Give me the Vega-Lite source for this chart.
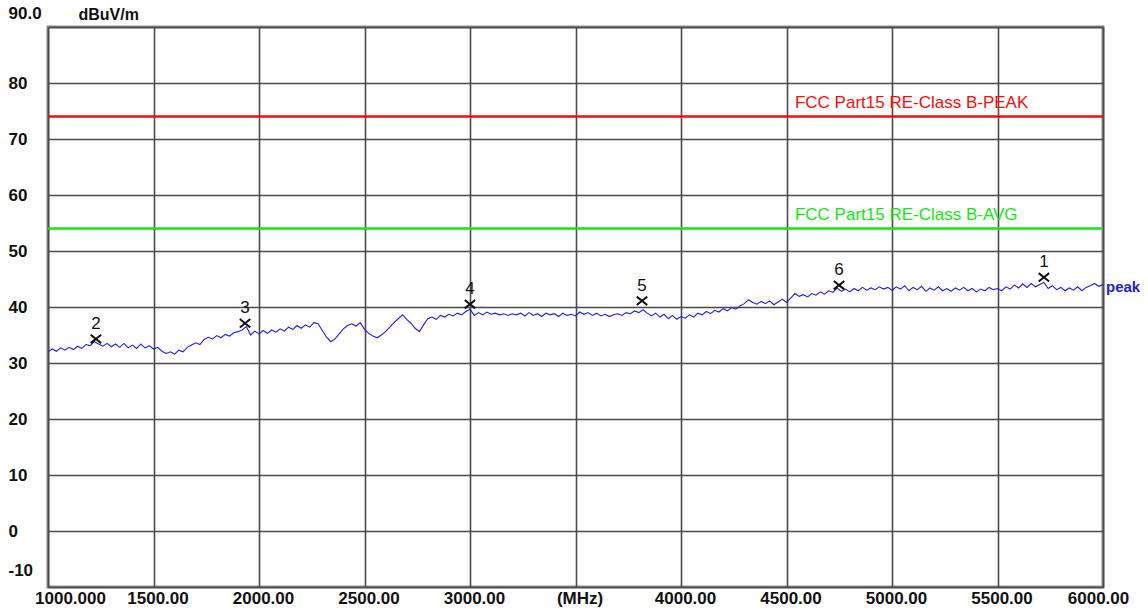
{
  "$schema": "https://vega.github.io/schema/vega-lite/v6.json",
  "width": 1055,
  "height": 560,
  "autosize": {"type": "none"},
  "padding": {"left": 48, "top": 27, "right": 45, "bottom": 24},
  "background": "white",
  "config": {
    "view": {"stroke": "#8a8a8a", "strokeWidth": 3},
    "axis": {
      "grid": true, "gridColor": "#4a4a4a", "gridWidth": 1.6, "gridOpacity": 1,
      "domain": false, "ticks": false, "tickSize": 0, "labelOverlap": false, "labelBound": false, "labelFlush": false,
      "labelFont": "Liberation Sans", "labelFontSize": 17, "labelFontWeight": "bold", "labelColor": "#111111",
      "titleFont": "Liberation Sans", "titleFontSize": 16, "titleFontWeight": "bold", "titleColor": "#111111"
    }
  },
  "datasets": {
    "trace": [
      {"freq":1000,"level":32.0},{"freq":1020,"level":32.5},{"freq":1040,"level":32.1},{"freq":1060,"level":32.7},{"freq":1080,"level":32.3},
      {"freq":1100,"level":32.8},{"freq":1120,"level":32.4},{"freq":1140,"level":33.0},{"freq":1160,"level":32.6},{"freq":1180,"level":33.3},
      {"freq":1200,"level":33.1},{"freq":1220,"level":33.8},{"freq":1240,"level":33.4},{"freq":1260,"level":33.0},{"freq":1280,"level":33.5},
      {"freq":1300,"level":32.9},{"freq":1320,"level":33.4},{"freq":1340,"level":32.8},{"freq":1360,"level":33.5},{"freq":1380,"level":32.7},
      {"freq":1400,"level":33.2},{"freq":1420,"level":32.6},{"freq":1440,"level":33.4},{"freq":1460,"level":32.7},{"freq":1480,"level":33.1},
      {"freq":1500,"level":32.5},{"freq":1520,"level":32.8},{"freq":1540,"level":32.1},{"freq":1560,"level":31.7},{"freq":1580,"level":32.0},
      {"freq":1600,"level":31.6},{"freq":1620,"level":32.3},{"freq":1640,"level":32.0},{"freq":1660,"level":32.8},{"freq":1680,"level":33.2},
      {"freq":1700,"level":33.6},{"freq":1720,"level":33.3},{"freq":1740,"level":34.2},{"freq":1760,"level":34.6},{"freq":1780,"level":34.3},
      {"freq":1800,"level":34.9},{"freq":1820,"level":34.5},{"freq":1840,"level":35.1},{"freq":1860,"level":34.8},{"freq":1880,"level":35.4},
      {"freq":1900,"level":35.6},{"freq":1920,"level":35.9},{"freq":1940,"level":36.5},{"freq":1960,"level":35.0},{"freq":1980,"level":35.7},
      {"freq":2000,"level":35.2},{"freq":2020,"level":35.8},{"freq":2040,"level":35.3},{"freq":2060,"level":35.9},{"freq":2080,"level":35.5},
      {"freq":2100,"level":36.1},{"freq":2120,"level":35.7},{"freq":2140,"level":36.4},{"freq":2160,"level":36.0},{"freq":2180,"level":36.7},
      {"freq":2200,"level":36.2},{"freq":2220,"level":36.8},{"freq":2240,"level":36.4},{"freq":2260,"level":37.2},{"freq":2280,"level":37.0},
      {"freq":2300,"level":35.8},{"freq":2320,"level":34.6},{"freq":2340,"level":33.8},{"freq":2360,"level":34.3},{"freq":2380,"level":35.2},
      {"freq":2400,"level":36.1},{"freq":2420,"level":36.7},{"freq":2440,"level":37.0},{"freq":2460,"level":36.6},{"freq":2480,"level":37.2},
      {"freq":2500,"level":36.0},{"freq":2520,"level":35.3},{"freq":2540,"level":34.8},{"freq":2560,"level":34.5},{"freq":2580,"level":35.0},
      {"freq":2600,"level":35.6},{"freq":2620,"level":36.4},{"freq":2640,"level":37.2},{"freq":2660,"level":37.9},{"freq":2680,"level":38.6},
      {"freq":2700,"level":37.8},{"freq":2720,"level":37.1},{"freq":2740,"level":36.2},{"freq":2760,"level":35.6},{"freq":2780,"level":36.8},
      {"freq":2800,"level":37.9},{"freq":2820,"level":38.2},{"freq":2840,"level":37.8},{"freq":2860,"level":38.5},{"freq":2880,"level":38.2},
      {"freq":2900,"level":38.7},{"freq":2920,"level":38.4},{"freq":2940,"level":38.9},{"freq":2960,"level":38.6},{"freq":2980,"level":39.2},
      {"freq":3000,"level":39.6},{"freq":3020,"level":38.5},{"freq":3040,"level":39.0},{"freq":3060,"level":38.6},{"freq":3080,"level":39.1},
      {"freq":3100,"level":38.7},{"freq":3120,"level":38.9},{"freq":3140,"level":38.6},{"freq":3160,"level":38.8},{"freq":3180,"level":38.5},
      {"freq":3200,"level":38.8},{"freq":3220,"level":38.6},{"freq":3240,"level":38.9},{"freq":3260,"level":38.4},{"freq":3280,"level":39.0},
      {"freq":3300,"level":38.5},{"freq":3320,"level":38.8},{"freq":3340,"level":38.3},{"freq":3360,"level":38.9},{"freq":3380,"level":38.6},
      {"freq":3400,"level":38.8},{"freq":3420,"level":38.3},{"freq":3440,"level":38.9},{"freq":3460,"level":38.5},{"freq":3480,"level":38.7},
      {"freq":3500,"level":38.4},{"freq":3520,"level":39.1},{"freq":3540,"level":38.7},{"freq":3560,"level":39.0},{"freq":3580,"level":38.5},
      {"freq":3600,"level":38.9},{"freq":3620,"level":38.4},{"freq":3640,"level":38.7},{"freq":3660,"level":38.3},{"freq":3680,"level":38.6},
      {"freq":3700,"level":38.8},{"freq":3720,"level":38.5},{"freq":3740,"level":39.0},{"freq":3760,"level":38.8},{"freq":3780,"level":39.3},
      {"freq":3800,"level":39.0},{"freq":3820,"level":39.5},{"freq":3840,"level":38.9},{"freq":3860,"level":38.4},{"freq":3880,"level":38.9},
      {"freq":3900,"level":38.2},{"freq":3920,"level":38.7},{"freq":3940,"level":37.9},{"freq":3960,"level":38.5},{"freq":3980,"level":37.8},
      {"freq":4000,"level":38.3},{"freq":4020,"level":38.0},{"freq":4040,"level":38.6},{"freq":4060,"level":38.2},{"freq":4080,"level":38.9},
      {"freq":4100,"level":38.6},{"freq":4120,"level":39.2},{"freq":4140,"level":38.8},{"freq":4160,"level":39.4},{"freq":4180,"level":39.1},
      {"freq":4200,"level":39.7},{"freq":4220,"level":39.3},{"freq":4240,"level":39.9},{"freq":4260,"level":39.6},{"freq":4280,"level":40.2},
      {"freq":4300,"level":40.6},{"freq":4320,"level":41.3},{"freq":4340,"level":40.8},{"freq":4360,"level":40.5},{"freq":4380,"level":41.0},
      {"freq":4400,"level":40.6},{"freq":4420,"level":41.1},{"freq":4440,"level":40.4},{"freq":4460,"level":40.9},{"freq":4480,"level":41.4},
      {"freq":4500,"level":40.8},{"freq":4520,"level":41.6},{"freq":4540,"level":42.4},{"freq":4560,"level":41.9},{"freq":4580,"level":42.2},
      {"freq":4600,"level":41.8},{"freq":4620,"level":42.4},{"freq":4640,"level":42.1},{"freq":4660,"level":42.7},{"freq":4680,"level":42.3},
      {"freq":4700,"level":42.9},{"freq":4720,"level":42.6},{"freq":4740,"level":43.4},{"freq":4760,"level":42.8},{"freq":4780,"level":43.2},
      {"freq":4800,"level":42.7},{"freq":4820,"level":43.3},{"freq":4840,"level":42.9},{"freq":4860,"level":43.5},{"freq":4880,"level":43.0},
      {"freq":4900,"level":43.4},{"freq":4920,"level":43.1},{"freq":4940,"level":43.6},{"freq":4960,"level":43.2},{"freq":4980,"level":43.5},
      {"freq":5000,"level":43.0},{"freq":5020,"level":43.6},{"freq":5040,"level":43.2},{"freq":5060,"level":43.8},{"freq":5080,"level":42.9},
      {"freq":5100,"level":43.5},{"freq":5120,"level":43.1},{"freq":5140,"level":43.7},{"freq":5160,"level":42.8},{"freq":5180,"level":43.4},
      {"freq":5200,"level":43.0},{"freq":5220,"level":43.6},{"freq":5240,"level":42.9},{"freq":5260,"level":43.3},{"freq":5280,"level":42.8},
      {"freq":5300,"level":43.4},{"freq":5320,"level":43.0},{"freq":5340,"level":43.5},{"freq":5360,"level":42.9},{"freq":5380,"level":43.3},
      {"freq":5400,"level":42.7},{"freq":5420,"level":43.2},{"freq":5440,"level":42.9},{"freq":5460,"level":43.5},{"freq":5480,"level":43.1},
      {"freq":5500,"level":43.3},{"freq":5520,"level":42.9},{"freq":5540,"level":43.6},{"freq":5560,"level":43.2},{"freq":5580,"level":43.9},
      {"freq":5600,"level":43.4},{"freq":5620,"level":44.1},{"freq":5640,"level":43.5},{"freq":5660,"level":44.2},{"freq":5680,"level":43.6},
      {"freq":5700,"level":44.0},{"freq":5720,"level":44.4},{"freq":5740,"level":43.3},{"freq":5760,"level":43.8},{"freq":5780,"level":43.1},
      {"freq":5800,"level":43.5},{"freq":5820,"level":42.9},{"freq":5840,"level":43.4},{"freq":5860,"level":43.0},{"freq":5880,"level":43.6},
      {"freq":5900,"level":42.9},{"freq":5920,"level":43.5},{"freq":5940,"level":43.8},{"freq":5960,"level":44.2},{"freq":5980,"level":43.7},
      {"freq":6000,"level":44.0}
    ],
    "limits": [
      {"name": "FCC Part15 RE-Class B-PEAK", "level": 74},
      {"name": "FCC Part15 RE-Class B-AVG", "level": 54}
    ],
    "markers": [
      {"id": "1", "freq": 5720, "level": 45.3},
      {"id": "2", "freq": 1227, "level": 34.3},
      {"id": "3", "freq": 1934, "level": 37.1},
      {"id": "4", "freq": 3000, "level": 40.5},
      {"id": "5", "freq": 3815, "level": 41.1},
      {"id": "6", "freq": 4749, "level": 43.9}
    ]
  },
  "layer": [
    {
      "data": {"name": "trace"},
      "mark": {"type": "line", "color": "#1f1fe6", "strokeWidth": 1.1, "clip": true},
      "encoding": {
        "x": {
          "field": "freq", "type": "quantitative",
          "scale": {"domain": [1000, 6000], "nice": false, "zero": false},
          "axis": {
            "values": [1000, 1500, 2000, 2500, 3000, 3500, 4000, 4500, 5000, 5500, 6000],
            "labelExpr": "datum.value == 3500 ? '(MHz)' : datum.value == 1000 ? '1000.000' : format(datum.value, '.2f')",
            "labelPadding": 3, "labelBaseline": "top",
            "labelOffset": {"condition": [{"test": "datum.value == 1000", "value": 22}, {"test": "datum.value == 6000", "value": -5}], "value": 4},
            "title": null
          }
        },
        "y": {
          "field": "level", "type": "quantitative",
          "scale": {"domain": [-10, 90], "nice": false, "zero": false},
          "axis": {
            "values": [-10, 0, 10, 20, 30, 40, 50, 60, 70, 80, 90],
            "labelExpr": "datum.value == 90 ? '90.0' : datum.value",
            "labelAlign": "left", "labelPadding": 40, "labelBaseline": "middle",
            "labelOffset": {"condition": [{"test": "datum.value == 90", "value": -14}, {"test": "datum.value == -10", "value": -17}], "value": 0},
            "title": "dBuV/m", "titleAngle": 0, "titleAlign": "left", "titleBaseline": "middle",
            "titleX": 30, "titleY": -13
          }
        }
      }
    },
    {
      "data": {"name": "limits"},
      "mark": {"type": "rule", "strokeWidth": 2.5},
      "encoding": {
        "y": {"field": "level", "type": "quantitative"},
        "color": {"field": "name", "type": "nominal", "scale": {"domain": ["FCC Part15 RE-Class B-PEAK", "FCC Part15 RE-Class B-AVG"], "range": ["#ff0a0a", "#14e614"]}, "legend": null}
      }
    },
    {
      "data": {"name": "limits"},
      "mark": {"type": "text", "align": "left", "baseline": "middle", "dy": -14, "font": "Liberation Sans", "fontSize": 17},
      "encoding": {
        "x": {"datum": 4540, "type": "quantitative"},
        "y": {"field": "level", "type": "quantitative"},
        "text": {"field": "name"},
        "color": {"field": "name", "type": "nominal", "scale": {"domain": ["FCC Part15 RE-Class B-PEAK", "FCC Part15 RE-Class B-AVG"], "range": ["#e21616", "#22dd22"]}, "legend": null}
      }
    },
    {
      "data": {"name": "markers"},
      "mark": {"type": "point", "shape": "M-1,-0.8L1,0.8M1,-0.8L-1,0.8", "size": 110, "filled": false, "stroke": "#111111", "strokeWidth": 2, "opacity": 1},
      "encoding": {
        "x": {"field": "freq", "type": "quantitative"},
        "y": {"field": "level", "type": "quantitative"}
      }
    },
    {
      "data": {"name": "markers"},
      "mark": {"type": "text", "align": "center", "baseline": "middle", "dy": -15, "font": "Liberation Sans", "fontSize": 17, "color": "#111111"},
      "encoding": {
        "x": {"field": "freq", "type": "quantitative"},
        "y": {"field": "level", "type": "quantitative"},
        "text": {"field": "id"}
      }
    },
    {
      "data": {"values": [{"label": "peak"}]},
      "mark": {"type": "text", "align": "left", "baseline": "middle", "dx": 3, "font": "Liberation Sans", "fontSize": 15, "fontWeight": "bold", "color": "#2222dd"},
      "encoding": {
        "x": {"datum": 6000, "type": "quantitative"},
        "y": {"datum": 43.5, "type": "quantitative"},
        "text": {"field": "label"}
      }
    }
  ]
}
